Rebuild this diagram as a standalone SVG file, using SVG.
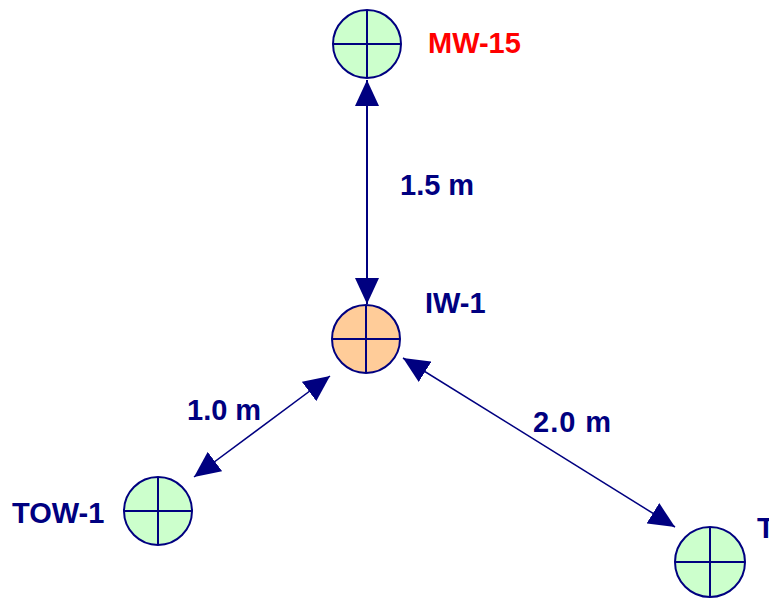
<svg xmlns="http://www.w3.org/2000/svg" width="769" height="599" viewBox="0 0 769 599">
<style>
.lbl{font-family:"Liberation Sans",Arial,sans-serif;font-weight:bold;font-size:29px;fill:#000080}
.red{fill:#ff0000}
.well circle{stroke:#000080;stroke-width:2}
.well line{stroke:#000080;stroke-width:2}
.g{fill:#ccffcc}
.o{fill:#ffcc99}
.conn line{stroke:#000080;marker-start:url(#ah);marker-end:url(#ah)}
</style>
<defs>
<marker id="ah" viewBox="0 0 26 24" refX="26" refY="12" markerWidth="26" markerHeight="24" markerUnits="userSpaceOnUse" orient="auto-start-reverse">
<path d="M0,0 L26,12 L0,24 z" fill="#000080"/>
</marker>
</defs>
<rect width="769" height="599" fill="#ffffff"/>
<g id="connectors" class="conn">
<line x1="367" y1="80" x2="367" y2="304" stroke-width="2"/>
<line x1="194" y1="477" x2="330" y2="376" stroke-width="1.5"/>
<line x1="403" y1="358" x2="675" y2="527" stroke-width="1.5"/>
</g>
<g id="mw15" class="well">
<circle class="g" cx="367" cy="44" r="34"/>
<line x1="333" y1="44" x2="401" y2="44"/>
<line x1="367" y1="10" x2="367" y2="78"/>
<text class="lbl red" x="428" y="53">MW-15</text>
</g>
<g id="iw1" class="well">
<circle class="o" cx="366" cy="339" r="34"/>
<line x1="332" y1="339" x2="400" y2="339"/>
<line x1="366" y1="305" x2="366" y2="373"/>
<text class="lbl" x="425" y="313">IW-1</text>
</g>
<g id="tow1" class="well">
<circle class="g" cx="158" cy="511" r="34"/>
<line x1="124" y1="511" x2="192" y2="511"/>
<line x1="158" y1="477" x2="158" y2="545"/>
<text class="lbl" x="12" y="523">TOW-1</text>
</g>
<g id="tow2" class="well">
<circle class="g" cx="710" cy="562" r="35"/>
<line x1="675" y1="562" x2="745" y2="562"/>
<line x1="710" y1="527" x2="710" y2="597"/>
<text class="lbl" x="757" y="538">T</text>
</g>
<g id="labels">
<text class="lbl" x="400" y="195">1.5 m</text>
<text class="lbl" x="187" y="420">1.0 m</text>
<text class="lbl" x="533" y="432" letter-spacing="1">2.0 m</text>
</g>
</svg>
